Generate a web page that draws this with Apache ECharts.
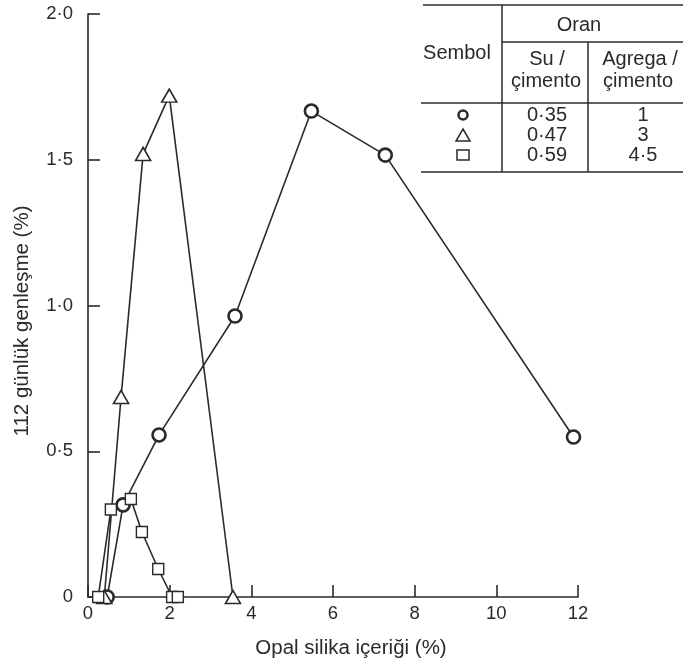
<!DOCTYPE html>
<html>
<head>
<meta charset="utf-8">
<script src="https://cdn.jsdelivr.net/npm/echarts@6/dist/echarts.min.js"></script>
<style>
html,body{margin:0;padding:0;background:#fff;}
#chart{width:683px;height:661px;}
</style>
</head>
<body>
<div id="chart"></div>
<script>
// ---- data ----
var xTicks = [0, 2, 4, 6, 8, 10, 12];
var yTicks = [0, 0.5, 1.0, 1.5, 2.0];

var circleX = [0.47, 0.86, 1.74, 3.6, 5.47, 7.28, 11.89];
var circleY = [0, 0.316, 0.556, 0.964, 1.667, 1.516, 0.549];

var triangleX = [0.4, 0.81, 1.35, 1.99, 3.55];
var triangleY = [0, 0.686, 1.52, 1.72, 0];

var squareX = [0.25, 0.56, 1.05, 1.32, 1.72, 2.06, 2.2];
var squareY = [0, 0.30, 0.336, 0.223, 0.096, 0, 0];

var tableSymbols = ['circle', 'triangle', 'rect'];
var suCimento = ['0·35', '0·47', '0·59'];
var agregaCimento = ['1', '3', '4·5'];

var xTitle = 'Opal silika içeriği (%)';
var yTitle = '112 günlük genleşme (%)';

function zip(xs, ys) { return xs.map(function (x, i) { return [x, ys[i]]; }); }
function fmt(v) { return v === 0 ? '0' : v.toFixed(1).replace('.', '·'); }

var INK = '#2a2a2a';
var FONT = '"Liberation Sans", Arial, sans-serif';

var chart = echarts.init(document.getElementById('chart'));

// table graphics
var g = [];
function line(x1, y1, x2, y2) {
  g.push({ type: 'line', shape: { x1: x1, y1: y1, x2: x2, y2: y2 }, style: { stroke: INK, lineWidth: 1.5 }, silent: true });
}
function text(t, x, y, size) {
  g.push({ type: 'text', x: x, y: y, style: { text: t, fill: INK, font: (size || 20) + 'px ' + FONT, textAlign: 'center', textVerticalAlign: 'middle', align: 'center', verticalAlign: 'middle' }, silent: true });
}
line(423, 5, 683, 5);
line(502, 5, 502, 172);
line(502, 42, 683, 42);
line(588, 42, 588, 172);
line(421, 103, 683, 103);
line(421, 172, 683, 172);
text('Sembol', 457, 53);
text('Oran', 579, 25);
text('Su /', 547, 59);
text('çimento', 546, 81);
text('Agrega /', 640, 59);
text('çimento', 638, 81);
var rowY = [115, 135, 155];
rowY.forEach(function (y, i) {
  text(suCimento[i], 547, y);
  text(agregaCimento[i], 643, y);
  var s = tableSymbols[i];
  if (s === 'circle') {
    g.push({ type: 'circle', shape: { cx: 463, cy: y, r: 4.5 }, style: { fill: '#fff', stroke: INK, lineWidth: 2.5 }, silent: true });
  } else if (s === 'triangle') {
    g.push({ type: 'polygon', shape: { points: [[463, y - 6], [470, y + 6], [456, y + 6]] }, style: { fill: '#fff', stroke: INK, lineWidth: 1.5 }, silent: true });
  } else {
    g.push({ type: 'rect', shape: { x: 457, y: y - 5, width: 12, height: 10 }, style: { fill: '#fff', stroke: INK, lineWidth: 1.5 }, silent: true });
  }
});
// axis titles
g.push({ type: 'text', x: 351, y: 648, style: { text: xTitle, fill: INK, font: '20.5px ' + FONT, textAlign: 'center', textVerticalAlign: 'middle', align: 'center', verticalAlign: 'middle' }, silent: true });
g.push({ type: 'text', x: 22, y: 321, rotation: Math.PI / 2, style: { text: yTitle, fill: INK, font: '20.5px ' + FONT, textAlign: 'center', textVerticalAlign: 'middle', align: 'center', verticalAlign: 'middle' }, silent: true });

function series(name, xs, ys, symbol, size, bw) {
  return {
    name: name, type: 'line', data: zip(xs, ys), symbol: symbol, symbolSize: size,
    showAllSymbol: true, animation: false,
    lineStyle: { color: INK, width: 1.6 },
    itemStyle: { color: '#fff', borderColor: INK, borderWidth: bw, opacity: 1 },
    emphasis: { disabled: true }
  };
}

chart.setOption({
  animation: false,
  backgroundColor: '#fff',
  grid: { left: 88, right: 105, top: 14, bottom: 64, containLabel: false },
  xAxis: {
    type: 'value', min: xTicks[0], max: xTicks[xTicks.length - 1], interval: 2,
    axisLine: { show: true, lineStyle: { color: INK, width: 1.6 } },
    axisTick: { show: true, inside: true, length: 12, lineStyle: { color: INK, width: 1.6 } },
    axisLabel: { color: INK, fontSize: 18.5, fontFamily: FONT, margin: 7 },
    splitLine: { show: false }
  },
  yAxis: {
    type: 'value', min: yTicks[0], max: yTicks[yTicks.length - 1], interval: 0.5,
    axisLine: { show: true, lineStyle: { color: INK, width: 1.6 } },
    axisTick: { show: true, inside: true, length: 12, lineStyle: { color: INK, width: 1.6 } },
    axisLabel: { color: INK, fontSize: 18.5, fontFamily: FONT, margin: 15, formatter: fmt },
    splitLine: { show: false }
  },
  series: [
    series('0·35', circleX, circleY, 'circle', 13, 2.6),
    series('0·47', triangleX, triangleY, 'triangle', [15, 13], 1.6),
    series('0·59', squareX, squareY, 'rect', 11, 1.4)
  ],
  graphic: g
});
</script>
</body>
</html>
